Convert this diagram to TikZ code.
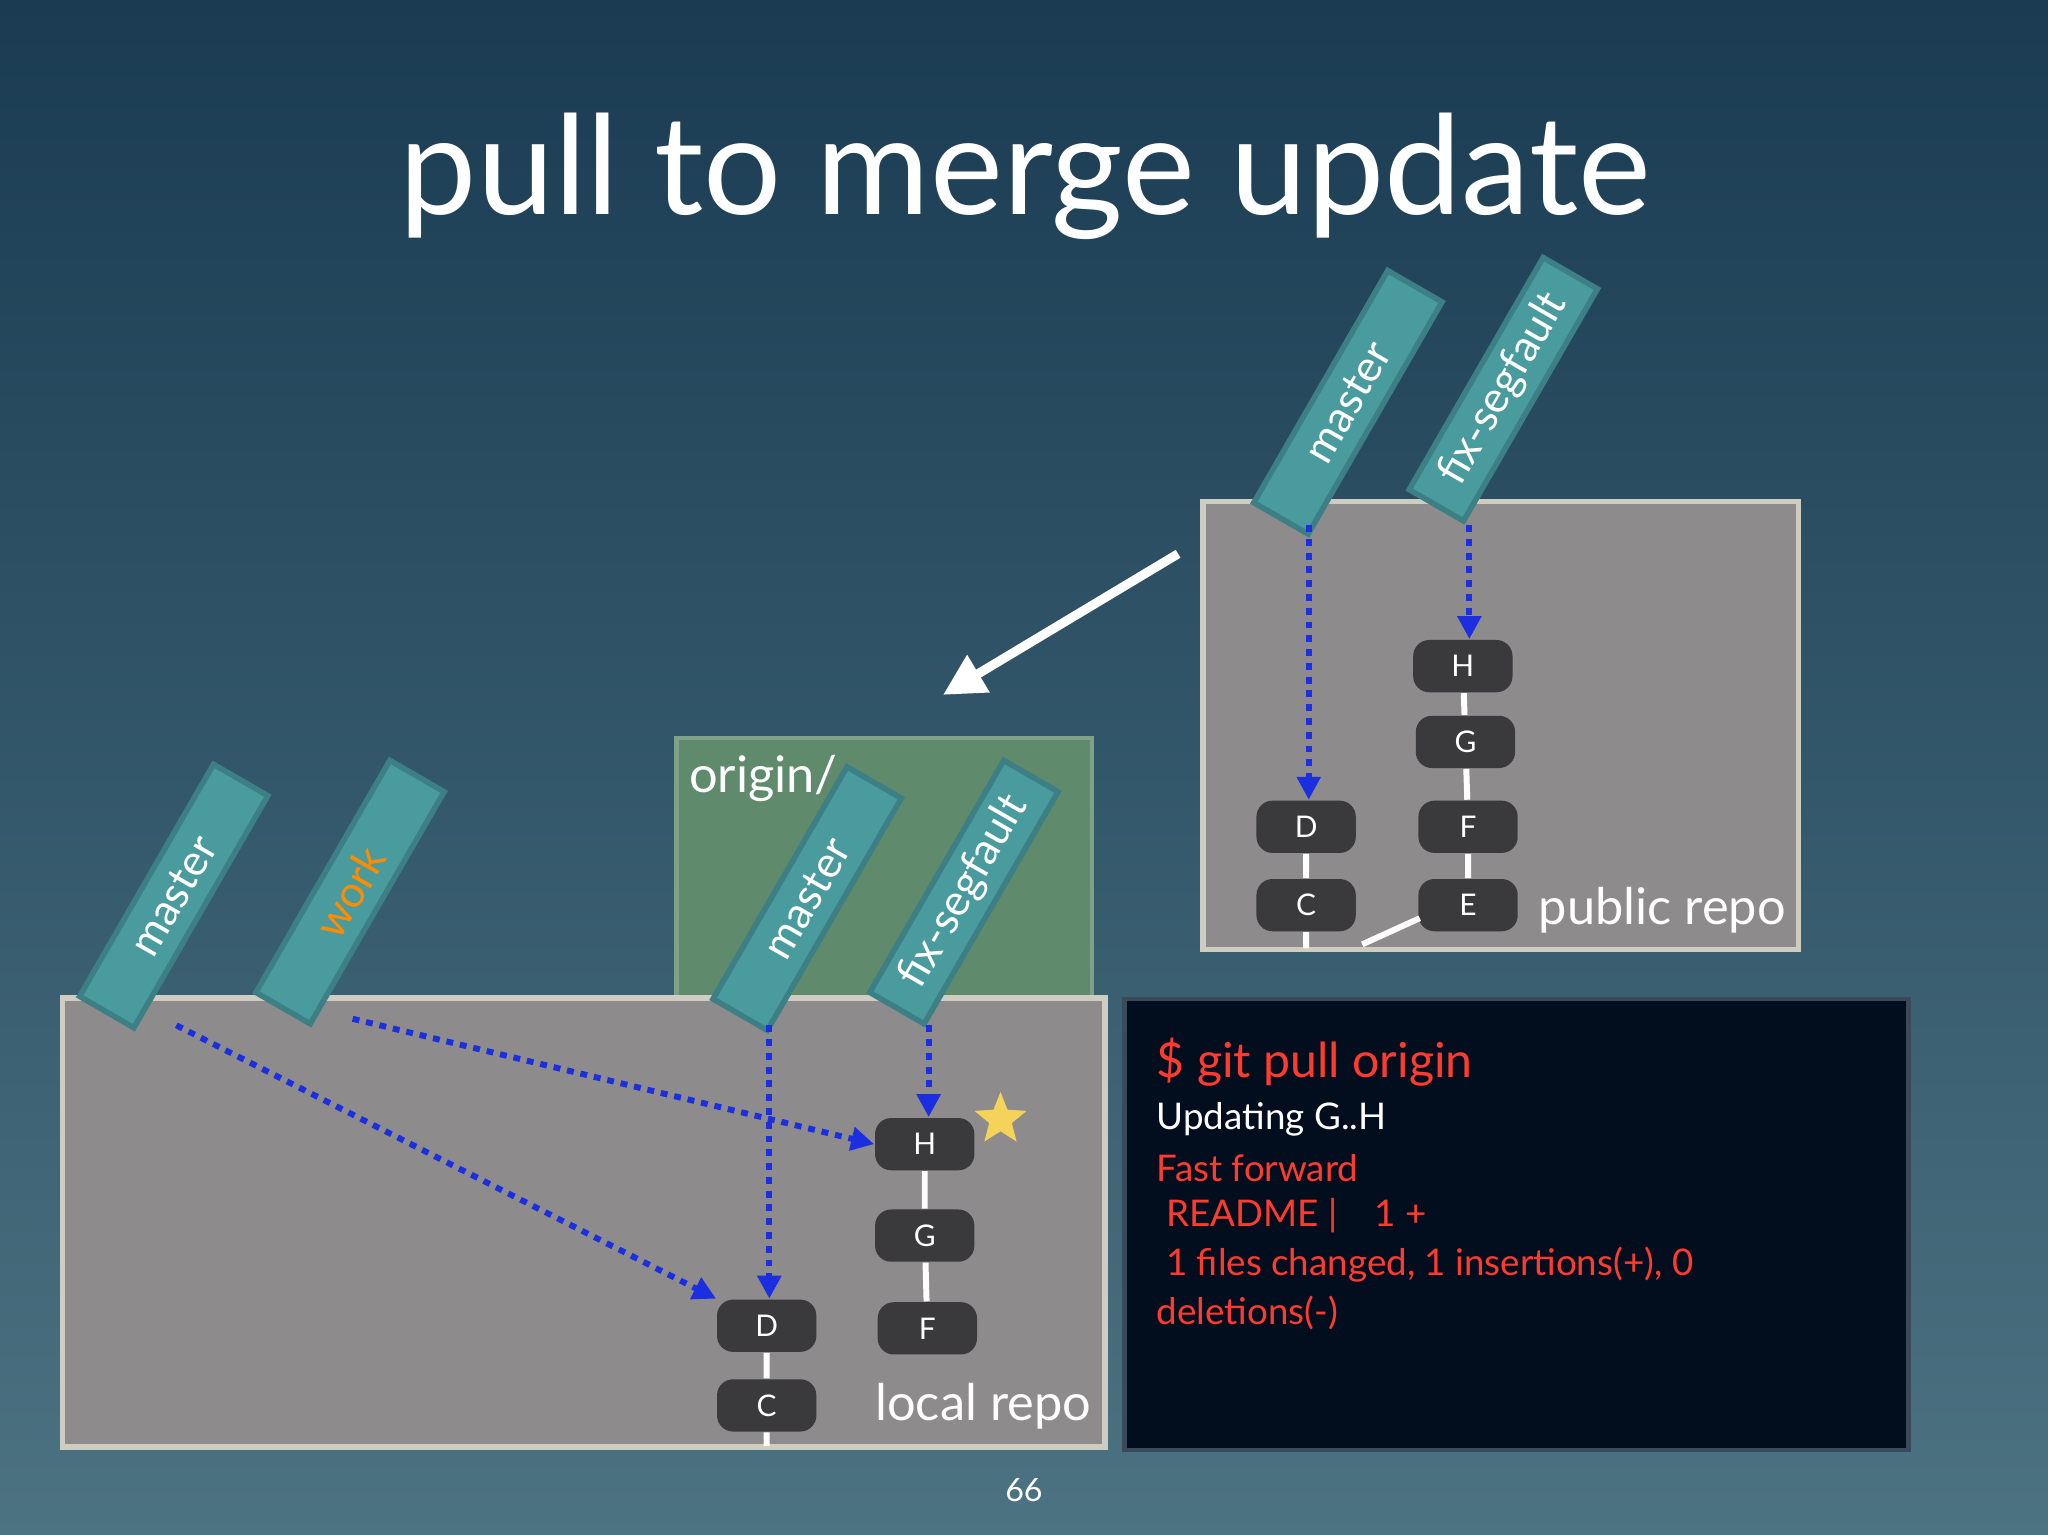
\documentclass[tikz,border=0pt]{standalone}
\usepackage{fontspec}
\setmainfont{Lato}
\usetikzlibrary{shapes.geometric,arrows.meta}
\definecolor{bgtop}{HTML}{1A3B52}
\definecolor{bgbot}{HTML}{4C7382}
\definecolor{repo}{HTML}{8D8B8B}
\definecolor{repoline}{HTML}{CFCDC2}
\definecolor{teal}{HTML}{4A9B9D}
\definecolor{tealdark}{HTML}{3C7F84}
\definecolor{commit}{HTML}{3A3A3C}
\definecolor{dotblue}{HTML}{1B2FE0}
\definecolor{termred}{HTML}{FF3B2F}
\definecolor{orig}{HTML}{5F8A6B}
\definecolor{termbg}{HTML}{020E1E}
\definecolor{termline}{HTML}{3A4A5A}
\definecolor{staryel}{HTML}{F5D25A}
\begin{document}
\begin{tikzpicture}[x=0.01cm,y=-0.01cm,
  branch/.style={draw=tealdark,line width=1.2pt,fill=teal,rotate=60,minimum width=2.05cm,minimum height=0.48cm,text=white,font=\fontsize{9.5}{11}\selectfont,inner sep=0pt},
  commitn/.style={fill=commit,rounded corners=3.5pt,minimum width=0.76cm,minimum height=0.40cm,text=white,font=\fontsize{6.5}{8}\selectfont,inner sep=0pt},
  link/.style={white,line width=1.3pt},
  ptr/.style={dotblue,line width=1.3pt,dash pattern=on 1.5pt off 1.5pt,-{Triangle[length=5pt,width=5pt]}},
  box/.style={fill=repo,draw=repoline,line width=1.2pt},
  lbl/.style={text=white,font=\fontsize{11}{13}\selectfont,inner sep=0pt},
  term/.style={anchor=west,inner sep=0pt,font=\fontsize{8}{10}\selectfont}]
\useasboundingbox (0,0) rectangle (1568,1175);
\shade[top color=bgtop,bottom color=bgbot] (0,0) rectangle (1568,1175);
\node[text=white,font=\fontsize{30}{36}\selectfont] (title) at (785,135) {pull to merge update};
% boxes
\draw[box] (921,384) rectangle (1377,727);
\node[lbl,anchor=east] (pubrepo) at (1368,697) {public repo};
\draw[fill=orig,draw=orig!80!white,line width=1pt] (518,565) rectangle (836,764);
\node[lbl,anchor=west] (origin) at (527,596) {origin/};
\draw[box] (48,764) rectangle (846,1108);
\node[lbl,anchor=east] (locrepo) at (836,1077) {local repo};
\draw[fill=termbg,draw=termline,line width=1pt] (861,765) rectangle (1461,1110);
% public commits
\node[commitn] (pH) at (1120,510) {H};
\node[commitn] (pG) at (1122,568) {G};
\node[commitn] (pF) at (1124,633) {F};
\node[commitn] (pE) at (1124,693) {E};
\node[commitn] (pD) at (1000,633) {D};
\node[commitn] (pC) at (1000,693) {C};
\coordinate (pCend) at (1000,726);
\coordinate (pEa) at (1087,703);
\coordinate (pEb) at (1043,723);
\draw[link] (pH)--(pG) (pG)--(pF) (pF)--(pE) (pD)--(pC) (pC)--(pCend) (pEa)--(pEb);
% local commits
\node[commitn] (lH) at (708,876) {H};
\node[commitn] (lG) at (708,946) {G};
\node[commitn] (lF) at (710,1017) {F};
\node[commitn] (lD) at (587,1015) {D};
\node[commitn] (lC) at (587,1076) {C};
\coordinate (lCend) at (587,1107);
\draw[link] (lH)--(lG) (lG)--(lF) (lD)--(lC) (lC)--(lCend);
% branches
\node[branch] (pmaster) at (1032,308) {master};
\node[branch] (pfix) at (1151,298) {fix-segfault};
\node[branch] (lmaster) at (133,686) {master};
\node[branch,text=orange!90!yellow] (lwork) at (268,683) {work};
\node[branch] (omaster) at (618,688) {master};
\node[branch] (ofix) at (738,683) {fix-segfault};
% pointers
\coordinate (a1) at (1002,402); \coordinate (a2) at (1125,402);
\coordinate (a3) at (135,785); \coordinate (a4) at (270,780);
\coordinate (a5) at (589,785); \coordinate (a6) at (711,785);
\draw[ptr] (a1) -- (pD.north -| a1);
\draw[ptr] (a2) -- (pH.north -| a2);
\draw[ptr] (a3) -- (lD.north west);
\draw[ptr] (a4) -- (lH.west);
\draw[ptr] (a5) -- (lD.north -| a5);
\draw[ptr] (a6) -- (lH.north -| a6);
% white arrow
\coordinate (w1) at (902,424); \coordinate (w2) at (722,532);
\draw[white,line width=2pt,-{Triangle[length=9pt,width=9pt]}] (w1) -- (w2);
% star
\node[star,star points=5,star point ratio=2.3,fill=staryel,minimum size=0.42cm,inner sep=0pt] (star) at (766,857) {};
% terminal
\node[term,text=termred,font=\fontsize{10.5}{12}\selectfont] (t1) at (885,813) {\$ git pull origin};
\node[term,text=white] (t2) at (885,857) {Updating G..H};
\node[term,text=termred] (t3) at (885,894) {Fast forward};
\node[term,text=termred] (t4) at (885,931) {\ README |\ \ \ \ 1 +};
\node[term,text=termred] (t5) at (885,968) {\ 1 files changed, 1 insertions(+), 0};
\node[term,text=termred] (t6) at (885,1005) {deletions(-)};
\node[text=white,font=\fontsize{7}{8}\selectfont] (page) at (784,1141) {66};
\end{tikzpicture}
\end{document}
